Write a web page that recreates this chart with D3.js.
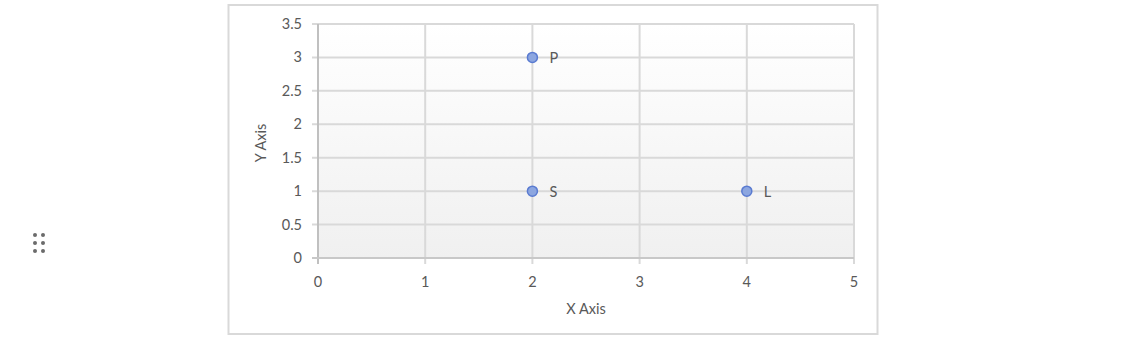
<!DOCTYPE html>
<html><head><meta charset="utf-8">
<script src="https://cdn.jsdelivr.net/npm/d3@7"></script>
<style>body{margin:0;background:#fff;font-family:Lato,"Open Sans",sans-serif;}</style>
</head><body>
<svg id="c" width="1131" height="339"></svg>
<script>
const labels = ["P", "S", "L"];
const xValues = [2, 2, 4];
const yValues = [3, 1, 1];
const xTicks = [0, 1, 2, 3, 4, 5];
const yTicks = [0, 0.5, 1, 1.5, 2, 2.5, 3, 3.5];

const svg = d3.select("#c");
// drag handle
const dots = [];
for (let r = 0; r < 3; r++) for (let c = 0; c < 2; c++) dots.push([35 + c * 8, 235 + r * 8]);
svg.selectAll(".hd").data(dots).join("circle").attr("cx", d => d[0]).attr("cy", d => d[1]).attr("r", 2).attr("fill", "#6b6b6b");

svg.append("rect").attr("x", 228.5).attr("y", 5).attr("width", 649).attr("height", 329)
  .attr("fill", "#fff").attr("stroke", "#d9d9d9").attr("stroke-width", 2);

const x = d3.scaleLinear().domain([0, 5]).range([318, 854]);
const y = d3.scaleLinear().domain([0, 3.5]).range([258, 24]);

const defs = svg.append("defs");
const g = defs.append("linearGradient").attr("id", "bg").attr("x1", 0).attr("x2", 0).attr("y1", 0).attr("y2", 1);
g.append("stop").attr("offset", "0").attr("stop-color", "#ffffff");
g.append("stop").attr("offset", "1").attr("stop-color", "#f0f0f0");
svg.append("rect").attr("x", x(0)).attr("y", y(3.5)).attr("width", x(5) - x(0)).attr("height", y(0) - y(3.5)).attr("fill", "url(#bg)");

// grid
svg.selectAll(".gx").data(xTicks).join("line").attr("x1", d => x(d)).attr("x2", d => x(d))
  .attr("y1", y(3.5)).attr("y2", y(0) + 6).attr("stroke", "#d9d9d9").attr("stroke-width", 2);
svg.selectAll(".gy").data(yTicks).join("line").attr("y1", d => y(d)).attr("y2", d => y(d))
  .attr("x1", x(0) - 6).attr("x2", x(5)).attr("stroke", "#d9d9d9").attr("stroke-width", 2);
// axis lines
svg.append("line").attr("x1", x(0)).attr("x2", x(0)).attr("y1", y(3.5)).attr("y2", y(0) + 6).attr("stroke", "#c0c0c0").attr("stroke-width", 2);
svg.append("line").attr("x1", x(0) - 6).attr("x2", x(5)).attr("y1", y(0)).attr("y2", y(0)).attr("stroke", "#c8c8c8").attr("stroke-width", 2);

svg.selectAll(".tx").data(xTicks).join("text").attr("x", d => x(d)).attr("y", 287)
  .attr("text-anchor", "middle").attr("font-size", 14.5).attr("fill", "#595959").text(d => d);
svg.selectAll(".ty").data(yTicks).join("text").attr("x", 302).attr("y", d => y(d) + 5)
  .attr("text-anchor", "end").attr("font-size", 14.5).attr("fill", "#595959").text(d => d);

svg.append("text").attr("x", 586).attr("y", 314).attr("text-anchor", "middle").attr("font-size", 14.5).attr("fill", "#595959").text("X Axis");
svg.append("text").attr("transform", "translate(266,143) rotate(-90)").attr("text-anchor", "middle").attr("font-size", 14.5).attr("fill", "#595959").text("Y Axis");

const pts = labels.map((l, i) => ({l, x: xValues[i], y: yValues[i]}));
svg.selectAll(".pt").data(pts).join("circle").attr("cx", d => x(d.x)).attr("cy", d => y(d.y)).attr("r", 5)
  .attr("fill", "#8ca6e0").attr("stroke", "#5a7bd1").attr("stroke-width", 1.5);
svg.selectAll(".pl").data(pts).join("text").attr("x", d => x(d.x) + 17).attr("y", d => y(d.y) + 5.5)
  .attr("font-size", 14.5).attr("fill", "#595959").text(d => d.l);
</script>
</body></html>
